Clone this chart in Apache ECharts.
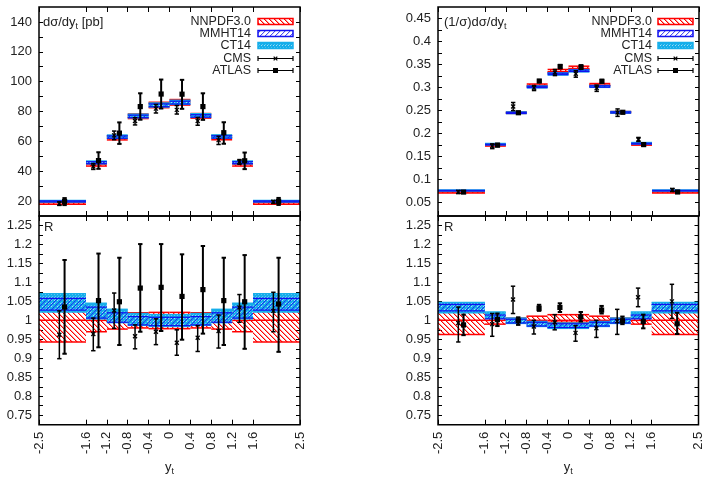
<!DOCTYPE html>
<html>
<head>
<meta charset="utf-8">
<script src="https://cdn.jsdelivr.net/npm/echarts@6/dist/echarts.min.js"></script>
<style>
html, body { margin: 0; padding: 0; background: #fff; }
#main { width: 705px; height: 477px; }
</style>
</head>
<body>
<div id="main"></div>
<script>
// bins in y_t and tick positions
var binEdges = [-2.5, -1.6, -1.2, -0.8, -0.4, 0, 0.4, 0.8, 1.2, 1.6, 2.5];
var cmsX   = [-2.11, -1.46, -1.06, -0.66, -0.26, 0.14, 0.54, 0.94, 1.34, 1.99];
var atlasX = [-2.01, -1.36, -0.96, -0.56, -0.16, 0.24, 0.64, 1.04, 1.44, 2.09];

var absTicks  = [20, 30, 40, 50, 60, 70, 80, 90, 100, 110, 120, 130, 140];
var absLabels = [20, 40, 60, 80, 100, 120, 140];
var normTicks  = [0.05, 0.075, 0.1, 0.125, 0.15, 0.175, 0.2, 0.225, 0.25, 0.275, 0.3, 0.325, 0.35, 0.375, 0.4, 0.425, 0.45];
var normLabels = [0.05, 0.1, 0.15, 0.2, 0.25, 0.3, 0.35, 0.4, 0.45];
var ratioTicks  = [0.75, 0.775, 0.8, 0.825, 0.85, 0.875, 0.9, 0.925, 0.95, 0.975, 1, 1.025, 1.05, 1.075, 1.1, 1.125, 1.15, 1.175, 1.2, 1.225, 1.25];
var ratioLabels = [0.75, 0.8, 0.85, 0.9, 0.95, 1, 1.05, 1.1, 1.15, 1.2, 1.25];

// ---- left: dsigma/dy_t [pb] ----
var nnpdfAbs = [19, 44.8, 62.4, 76.8, 84.4, 86.2, 77.1, 62.5, 44.8, 19];
// theory bands as ratio to NNPDF central [low, high]
var nnpdfBandL = [[0.943,1.025],[0.970,1.026],[0.977,1.023],[0.980,1.020],[0.978,1.021],[0.978,1.021],[0.980,1.020],[0.977,1.023],[0.970,1.026],[0.943,1.025]];
var mmhtBandL  = [[1.027,1.058],[1.006,1.035],[0.995,1.020],[0.988,1.010],[0.986,1.008],[0.986,1.008],[0.988,1.010],[0.995,1.020],[1.006,1.035],[1.027,1.058]];
var ct14BandL  = [[1.022,1.070],[1.004,1.045],[0.994,1.029],[0.987,1.018],[0.984,1.015],[0.984,1.015],[0.987,1.018],[0.994,1.029],[1.004,1.045],[1.022,1.070]];
// data [value, low, high]
var cmsAbs   = [[18.3,17.1,19.5],[43.2,41.2,45.1],[64.0,61.1,66.9],[73.6,71.0,75.9],[81.9,79.0,84.7],[81.1,78.3,84.0],[73.6,70.8,76.0],[60.8,57.9,63.4],[46.3,44.6,47.8],[19.5,18.4,20.4]];
var atlasAbs = [[19.7,17.3,22.0],[47.1,41.6,52.7],[65.5,58.3,72.7],[83.3,74.5,92.2],[91.7,82.0,101.4],[91.6,81.8,101.2],[83.3,74.4,92.2],[65.8,58.4,72.8],[47.0,41.4,52.5],[19.8,17.4,22.1]];
var cmsRatioL   = [[0.962,0.899,1.025],[0.964,0.920,1.006],[1.026,0.979,1.072],[0.958,0.925,0.988],[0.970,0.936,1.004],[0.941,0.908,0.975],[0.954,0.918,0.986],[0.972,0.927,1.014],[1.034,0.995,1.068],[1.025,0.970,1.074]];
var atlasRatioL = [[1.035,0.912,1.159],[1.052,0.929,1.176],[1.049,0.935,1.165],[1.085,0.970,1.201],[1.087,0.972,1.201],[1.063,0.949,1.174],[1.081,0.965,1.196],[1.052,0.935,1.165],[1.049,0.925,1.172],[1.043,0.917,1.165]];

// ---- right: (1/sigma) dsigma/dy_t ----
var nnpdfNorm = [0.073, 0.174, 0.245, 0.304, 0.334, 0.341, 0.305, 0.246, 0.176, 0.073];
var nnpdfBandR = [[0.963,1.022],[0.990,1.008],[0.993,1.006],[0.993,1.011],[0.995,1.015],[0.995,1.015],[0.993,1.011],[0.993,1.006],[0.990,1.008],[0.963,1.022]];
var mmhtBandR  = [[1.025,1.042],[1.004,1.014],[0.993,1.003],[0.985,0.995],[0.981,0.991],[0.981,0.991],[0.985,0.995],[0.993,1.003],[1.004,1.014],[1.025,1.042]];
var ct14BandR  = [[1.020,1.047],[1.005,1.022],[0.992,1.006],[0.984,0.997],[0.979,0.993],[0.979,0.993],[0.984,0.997],[0.992,1.006],[1.005,1.022],[1.020,1.047]];
var cmsNorm   = [[0.0725,0.0688,0.0756],[0.1723,0.1667,0.1771],[0.2585,0.2494,0.2671],[0.2991,0.2931,0.3040],[0.3323,0.3257,0.3390],[0.3297,0.3222,0.3362],[0.2986,0.2913,0.3050],[0.2455,0.2369,0.2531],[0.1867,0.1823,0.1910],[0.0767,0.0734,0.0799]];
var atlasNorm = [[0.0721,0.0702,0.0741],[0.1743,0.1714,0.1771],[0.2448,0.2421,0.2470],[0.3137,0.3116,0.3165],[0.3454,0.3413,0.3490],[0.3441,0.3400,0.3485],[0.3132,0.3105,0.3166],[0.2458,0.2435,0.2485],[0.1755,0.1723,0.1786],[0.0723,0.0704,0.0745]];
var cmsRatioR   = [[0.993,0.943,1.035],[0.990,0.958,1.018],[1.055,1.018,1.090],[0.984,0.964,1.000],[0.995,0.975,1.015],[0.967,0.945,0.986],[0.979,0.955,1.000],[0.998,0.963,1.029],[1.061,1.036,1.085],[1.050,1.005,1.095]];
var atlasRatioR = [[0.988,0.961,1.015],[1.002,0.985,1.018],[0.999,0.988,1.008],[1.032,1.025,1.041],[1.034,1.022,1.045],[1.009,0.997,1.022],[1.027,1.018,1.038],[0.999,0.990,1.010],[0.997,0.979,1.015],[0.991,0.964,1.020]];

var legendNames = ['NNPDF3.0', 'MMHT14', 'CT14', 'CMS', 'ATLAS'];
var legendRows = [21.5, 33.5, 45.5, 58.5, 70.5];

var FONT = '"Liberation Sans", Arial, Helvetica, sans-serif';
var RED = '#ff0000', BLUE = '#1010f0', CYAN = '#16aeea';

function makePattern(kind) {
  var n = kind === 'dots' ? 3 : 5;
  var c = document.createElement('canvas');
  c.width = n; c.height = n;
  var ctx = c.getContext('2d');
  if (kind === 'dots') {
    // cyan with a few lighter dots
    ctx.fillStyle = CYAN; ctx.fillRect(0, 0, n, n);
    ctx.fillStyle = '#9ddcf7'; ctx.fillRect(0, 0, 1, 1);
    ctx.fillStyle = '#5cc6f0'; ctx.fillRect(1, 2, 1, 1);
  } else {
    var rgb = kind === 'back' ? '255,0,0' : '16,16,240';
    var a1 = kind === 'back' ? 1 : 0.75, a2 = kind === 'back' ? 0.4 : 0.15;
    for (var y = 0; y < n; y++) {
      for (var x = 0; x < n; x++) {
        var d = kind === 'back' ? (x - y + n) % n : (x + y) % n;
        if (d === 0) { ctx.fillStyle = 'rgba(' + rgb + ',' + a1 + ')'; ctx.fillRect(x, y, 1, 1); }
        if (d === 1) { ctx.fillStyle = 'rgba(' + rgb + ',' + a2 + ')'; ctx.fillRect(x, y, 1, 1); }
      }
    }
  }
  return { image: c, repeat: 'repeat' };
}
var fills = [makePattern('back'), makePattern('fwd'), makePattern('dots')];
var strokes = [RED, BLUE, CYAN];
var edgeWidths = [1.5, 1.2, 1.5];

function bandSeries(gi, centers, band, k, mid) {
  var data = band.map(function (b, i) {
    var c = centers ? centers[i] : 1;
    return [binEdges[i], binEdges[i + 1], c * b[0], c * b[1], c];
  });
  return {
    type: 'custom', xAxisIndex: gi * 2, yAxisIndex: gi * 2, silent: true,
    data: data, encode: { x: [0, 1], y: [2, 3] },
    renderItem: function (params, api) {
      var p0 = api.coord([api.value(0), api.value(3)]);
      var p1 = api.coord([api.value(1), api.value(2)]);
      var ew = edgeWidths[k];
      var ch = [
        { type: 'rect', shape: { x: p0[0], y: p0[1], width: p1[0] - p0[0], height: p1[1] - p0[1] }, style: { fill: fills[k] } },
        { type: 'line', shape: { x1: p0[0], y1: p0[1], x2: p1[0], y2: p0[1] }, style: { stroke: strokes[k], lineWidth: ew } },
        { type: 'line', shape: { x1: p0[0], y1: p1[1], x2: p1[0], y2: p1[1] }, style: { stroke: strokes[k], lineWidth: ew } }
      ];
      if (mid) {
        var pm = api.coord([api.value(0), api.value(4)]);
        ch.push({ type: 'line', shape: { x1: p0[0], y1: pm[1], x2: p1[0], y2: pm[1] }, style: { stroke: strokes[k], lineWidth: 1.5 } });
      }
      return { type: 'group', children: ch };
    }
  };
}

function errSeries(gi, xs, vals, atlas) {
  var data = vals.map(function (v, i) { return [xs[i], v[0], v[1], v[2]]; });
  return {
    type: 'custom', xAxisIndex: gi * 2, yAxisIndex: gi * 2, silent: true,
    data: data, encode: { x: 0, y: [1, 2, 3] },
    renderItem: function (params, api) {
      var p = api.coord([api.value(0), api.value(1)]);
      var lo = api.coord([api.value(0), api.value(2)]);
      var hi = api.coord([api.value(0), api.value(3)]);
      var lw = atlas ? 2 : 1.5, cw = 2.2;
      var st = { stroke: '#000', lineWidth: lw };
      var ch = [
        { type: 'line', shape: { x1: p[0], y1: lo[1], x2: p[0], y2: hi[1] }, style: st },
        { type: 'line', shape: { x1: p[0] - cw, y1: lo[1], x2: p[0] + cw, y2: lo[1] }, style: st },
        { type: 'line', shape: { x1: p[0] - cw, y1: hi[1], x2: p[0] + cw, y2: hi[1] }, style: st }
      ];
      if (atlas) {
        ch.push({ type: 'rect', shape: { x: p[0] - 2.6, y: p[1] - 2.6, width: 5.2, height: 5.2 }, style: { fill: '#000' } });
      } else {
        ch.push({ type: 'line', shape: { x1: p[0] - 2, y1: p[1] - 2, x2: p[0] + 2, y2: p[1] + 2 }, style: { stroke: '#000', lineWidth: 1.3 } });
        ch.push({ type: 'line', shape: { x1: p[0] - 2, y1: p[1] + 2, x2: p[0] + 2, y2: p[1] - 2 }, style: { stroke: '#000', lineWidth: 1.3 } });
      }
      return { type: 'group', children: ch };
    }
  };
}

var grids = [
  { left: 39, top: 7, width: 261, height: 209 },
  { left: 39, top: 216, width: 261, height: 209 },
  { left: 438, top: 7, width: 261, height: 209 },
  { left: 438, top: 216, width: 261, height: 209 }
];
var yRanges = [[10, 150], [0.725, 1.275], [0.02, 0.475], [0.725, 1.275]];
var yTickSets = [absTicks, ratioTicks, normTicks, ratioTicks];
var yLabelSets = [absLabels, ratioLabels, normLabels, ratioLabels];

var xAxes = [], yAxes = [];
grids.forEach(function (g, gi) {
  g.show = true; g.borderColor = '#000'; g.borderWidth = 1.5; g.z = 10;
  var showX = gi === 1 || gi === 3;
  ['bottom', 'top'].forEach(function (pos) {
    xAxes.push({
      type: 'value', gridIndex: gi, position: pos, min: -2.5, max: 2.5,
      axisLine: { show: false, onZero: false }, splitLine: { show: false },
      axisTick: { show: true, inside: true, length: 5, customValues: binEdges, lineStyle: { color: '#000', width: 1 } },
      axisLabel: {
        show: showX && pos === 'bottom', rotate: 90, customValues: binEdges, margin: 7,
        fontSize: 13, color: '#222', fontFamily: FONT,
        formatter: function (v) { return String(+v.toFixed(2)); }
      },
      name: showX && pos === 'bottom' ? 'y{s|t}' : '',
      nameLocation: 'middle', nameGap: 33,
      nameTextStyle: { fontSize: 13, color: '#222', fontFamily: FONT, lineHeight: 18,
        rich: { s: { fontSize: 9, color: '#222', fontFamily: FONT, verticalAlign: 'bottom', lineHeight: 18 } } }
    });
  });
  ['left', 'right'].forEach(function (pos) {
    yAxes.push({
      type: 'value', gridIndex: gi, position: pos, min: yRanges[gi][0], max: yRanges[gi][1],
      axisLine: { show: false, onZero: false }, splitLine: { show: false },
      axisTick: { show: true, inside: true, length: 4, customValues: yTickSets[gi], lineStyle: { color: '#000', width: 1 } },
      axisLabel: {
        show: pos === 'left', customValues: yLabelSets[gi], margin: 7,
        fontSize: 13, color: '#222', fontFamily: FONT,
        formatter: function (v) { return String(+v.toFixed(3)); }
      }
    });
  });
});

// draw order: NNPDF, CT14, MMHT, then data
var series = [];
[[0, nnpdfAbs, nnpdfBandL, mmhtBandL, ct14BandL, cmsAbs, atlasAbs],
 [1, null, nnpdfBandL, mmhtBandL, ct14BandL, cmsRatioL, atlasRatioL],
 [2, nnpdfNorm, nnpdfBandR, mmhtBandR, ct14BandR, cmsNorm, atlasNorm],
 [3, null, nnpdfBandR, mmhtBandR, ct14BandR, cmsRatioR, atlasRatioR]].forEach(function (p) {
  series.push(
    bandSeries(p[0], p[1], p[2], 0, true),
    bandSeries(p[0], p[1], p[4], 2, false),
    bandSeries(p[0], p[1], p[3], 1, false),
    errSeries(p[0], cmsX, p[5], false),
    errSeries(p[0], atlasX, p[6], true)
  );
});

function label(x, y, text, size) {
  return {
    type: 'text', x: x, y: y, z: 20,
    style: {
      text: text, fill: '#222', fontSize: size, fontFamily: FONT,
      align: 'left', verticalAlign: 'middle', lineHeight: 18,
      rich: { s: { fontSize: 9, fill: '#222', fontFamily: FONT, verticalAlign: 'bottom', lineHeight: 18 } }
    }
  };
}

function legend(textRight, boxLeft) {
  var out = [];
  legendNames.forEach(function (name, i) {
    var y = legendRows[i];
    out.push({ type: 'text', x: textRight, y: y, z: 20,
      style: { text: name, fill: '#222', fontSize: 12.5, fontFamily: FONT, align: 'right', verticalAlign: 'middle' } });
    if (i < 3) {
      out.push({ type: 'rect', z: 20, shape: { x: boxLeft, y: y - 3, width: 35, height: 6 },
        style: { fill: fills[i], stroke: strokes[i], lineWidth: 1.5 } });
    } else {
      var st = { stroke: '#000', lineWidth: 1.2 };
      var cx = boxLeft + 17.5;
      out.push({ type: 'line', z: 20, shape: { x1: boxLeft, y1: y, x2: boxLeft + 35, y2: y }, style: st });
      out.push({ type: 'line', z: 20, shape: { x1: boxLeft, y1: y - 2.5, x2: boxLeft, y2: y + 2.5 }, style: st });
      out.push({ type: 'line', z: 20, shape: { x1: boxLeft + 35, y1: y - 2.5, x2: boxLeft + 35, y2: y + 2.5 }, style: st });
      if (i === 4) {
        out.push({ type: 'rect', z: 20, shape: { x: cx - 2.5, y: y - 2.5, width: 5, height: 5 }, style: { fill: '#000' } });
      } else {
        out.push({ type: 'line', z: 20, shape: { x1: cx - 1.8, y1: y - 1.8, x2: cx + 1.8, y2: y + 1.8 }, style: st });
        out.push({ type: 'line', z: 20, shape: { x1: cx - 1.8, y1: y + 1.8, x2: cx + 1.8, y2: y - 1.8 }, style: st });
      }
    }
  });
  return out;
}

var graphics = [
  label(43, 22, 'dσ/dy{s|t} [pb]', 13),
  label(444, 22, '(1/σ)dσ/dy{s|t}', 13),
  label(44, 227, 'R', 13),
  label(444, 227, 'R', 13)
].concat(legend(251, 258), legend(652, 658));

var chart = echarts.init(document.getElementById('main'));
chart.setOption({
  animation: false,
  backgroundColor: '#fff',
  grid: grids,
  xAxis: xAxes,
  yAxis: yAxes,
  series: series,
  graphic: graphics
});
</script>
</body>
</html>
